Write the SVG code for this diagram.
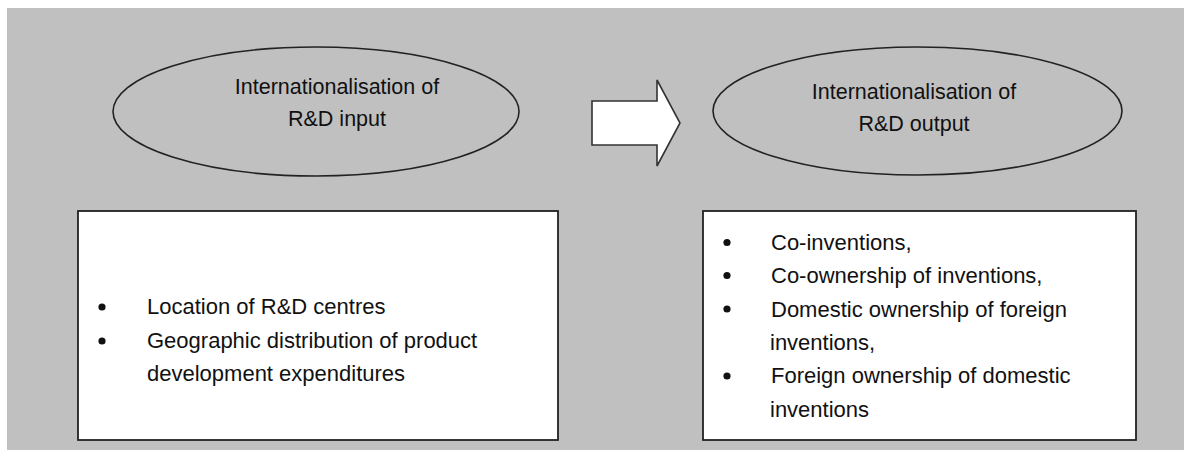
<svg xmlns="http://www.w3.org/2000/svg" width="1184" height="450" viewBox="0 0 1184 450">
  <style>
    .oval { fill: #c0c0c0; stroke: #222; stroke-width: 1.6; }
    .box { fill: #ffffff; stroke: #222; stroke-width: 1.8; }
    .arrow { fill: #ffffff; stroke: #333; stroke-width: 1.6; stroke-linejoin: miter; }
    .t { font-family: "Liberation Sans", Arial, sans-serif; fill: #111; }
    .ot { font-size: 21.5px; text-anchor: middle; }
    .bt { font-size: 22px; }
    .dot { fill: #111; }
  </style>
  <rect x="0" y="0" width="1184" height="450" fill="#ffffff"/>
  <rect x="7" y="8" width="1177" height="442" fill="#c0c0c0"/>

  <g id="input-oval">
    <ellipse class="oval" cx="316" cy="111.5" rx="203" ry="64.5"/>
    <text class="t ot" x="337" y="94">Internationalisation of</text>
    <text class="t ot" x="337" y="126">R&amp;D input</text>
  </g>

  <g id="output-oval">
    <ellipse class="oval" cx="917.5" cy="111" rx="204.5" ry="64"/>
    <text class="t ot" x="914" y="99">Internationalisation of</text>
    <text class="t ot" x="914" y="131">R&amp;D output</text>
  </g>

  <g id="connectors">
    <path class="arrow" d="M592,101 L657,101 L657,80 L680,123 L657,166 L657,145 L592,145 Z"/>
  </g>

  <g id="input-box">
    <rect class="box" x="78" y="211" width="480" height="229"/>
    <circle class="dot" cx="102" cy="307" r="3.6"/>
    <circle class="dot" cx="102" cy="341" r="3.6"/>
    <text class="t bt" x="147" y="314">Location of R&amp;D centres</text>
    <text class="t bt" x="147" y="348">Geographic distribution of product</text>
    <text class="t bt" x="147" y="381">development expenditures</text>
  </g>

  <g id="output-box">
    <rect class="box" x="703" y="211" width="433" height="229"/>
    <circle class="dot" cx="727" cy="242.5" r="3.6"/>
    <circle class="dot" cx="727" cy="275.5" r="3.6"/>
    <circle class="dot" cx="727" cy="309" r="3.6"/>
    <circle class="dot" cx="727" cy="376" r="3.6"/>
    <text class="t bt" x="771" y="250">Co-inventions,</text>
    <text class="t bt" x="771" y="283">Co-ownership of inventions,</text>
    <text class="t bt" x="771" y="317">Domestic ownership of foreign</text>
    <text class="t bt" x="770" y="350">inventions,</text>
    <text class="t bt" x="771" y="383">Foreign ownership of domestic</text>
    <text class="t bt" x="770" y="417">inventions</text>
  </g>
</svg>
